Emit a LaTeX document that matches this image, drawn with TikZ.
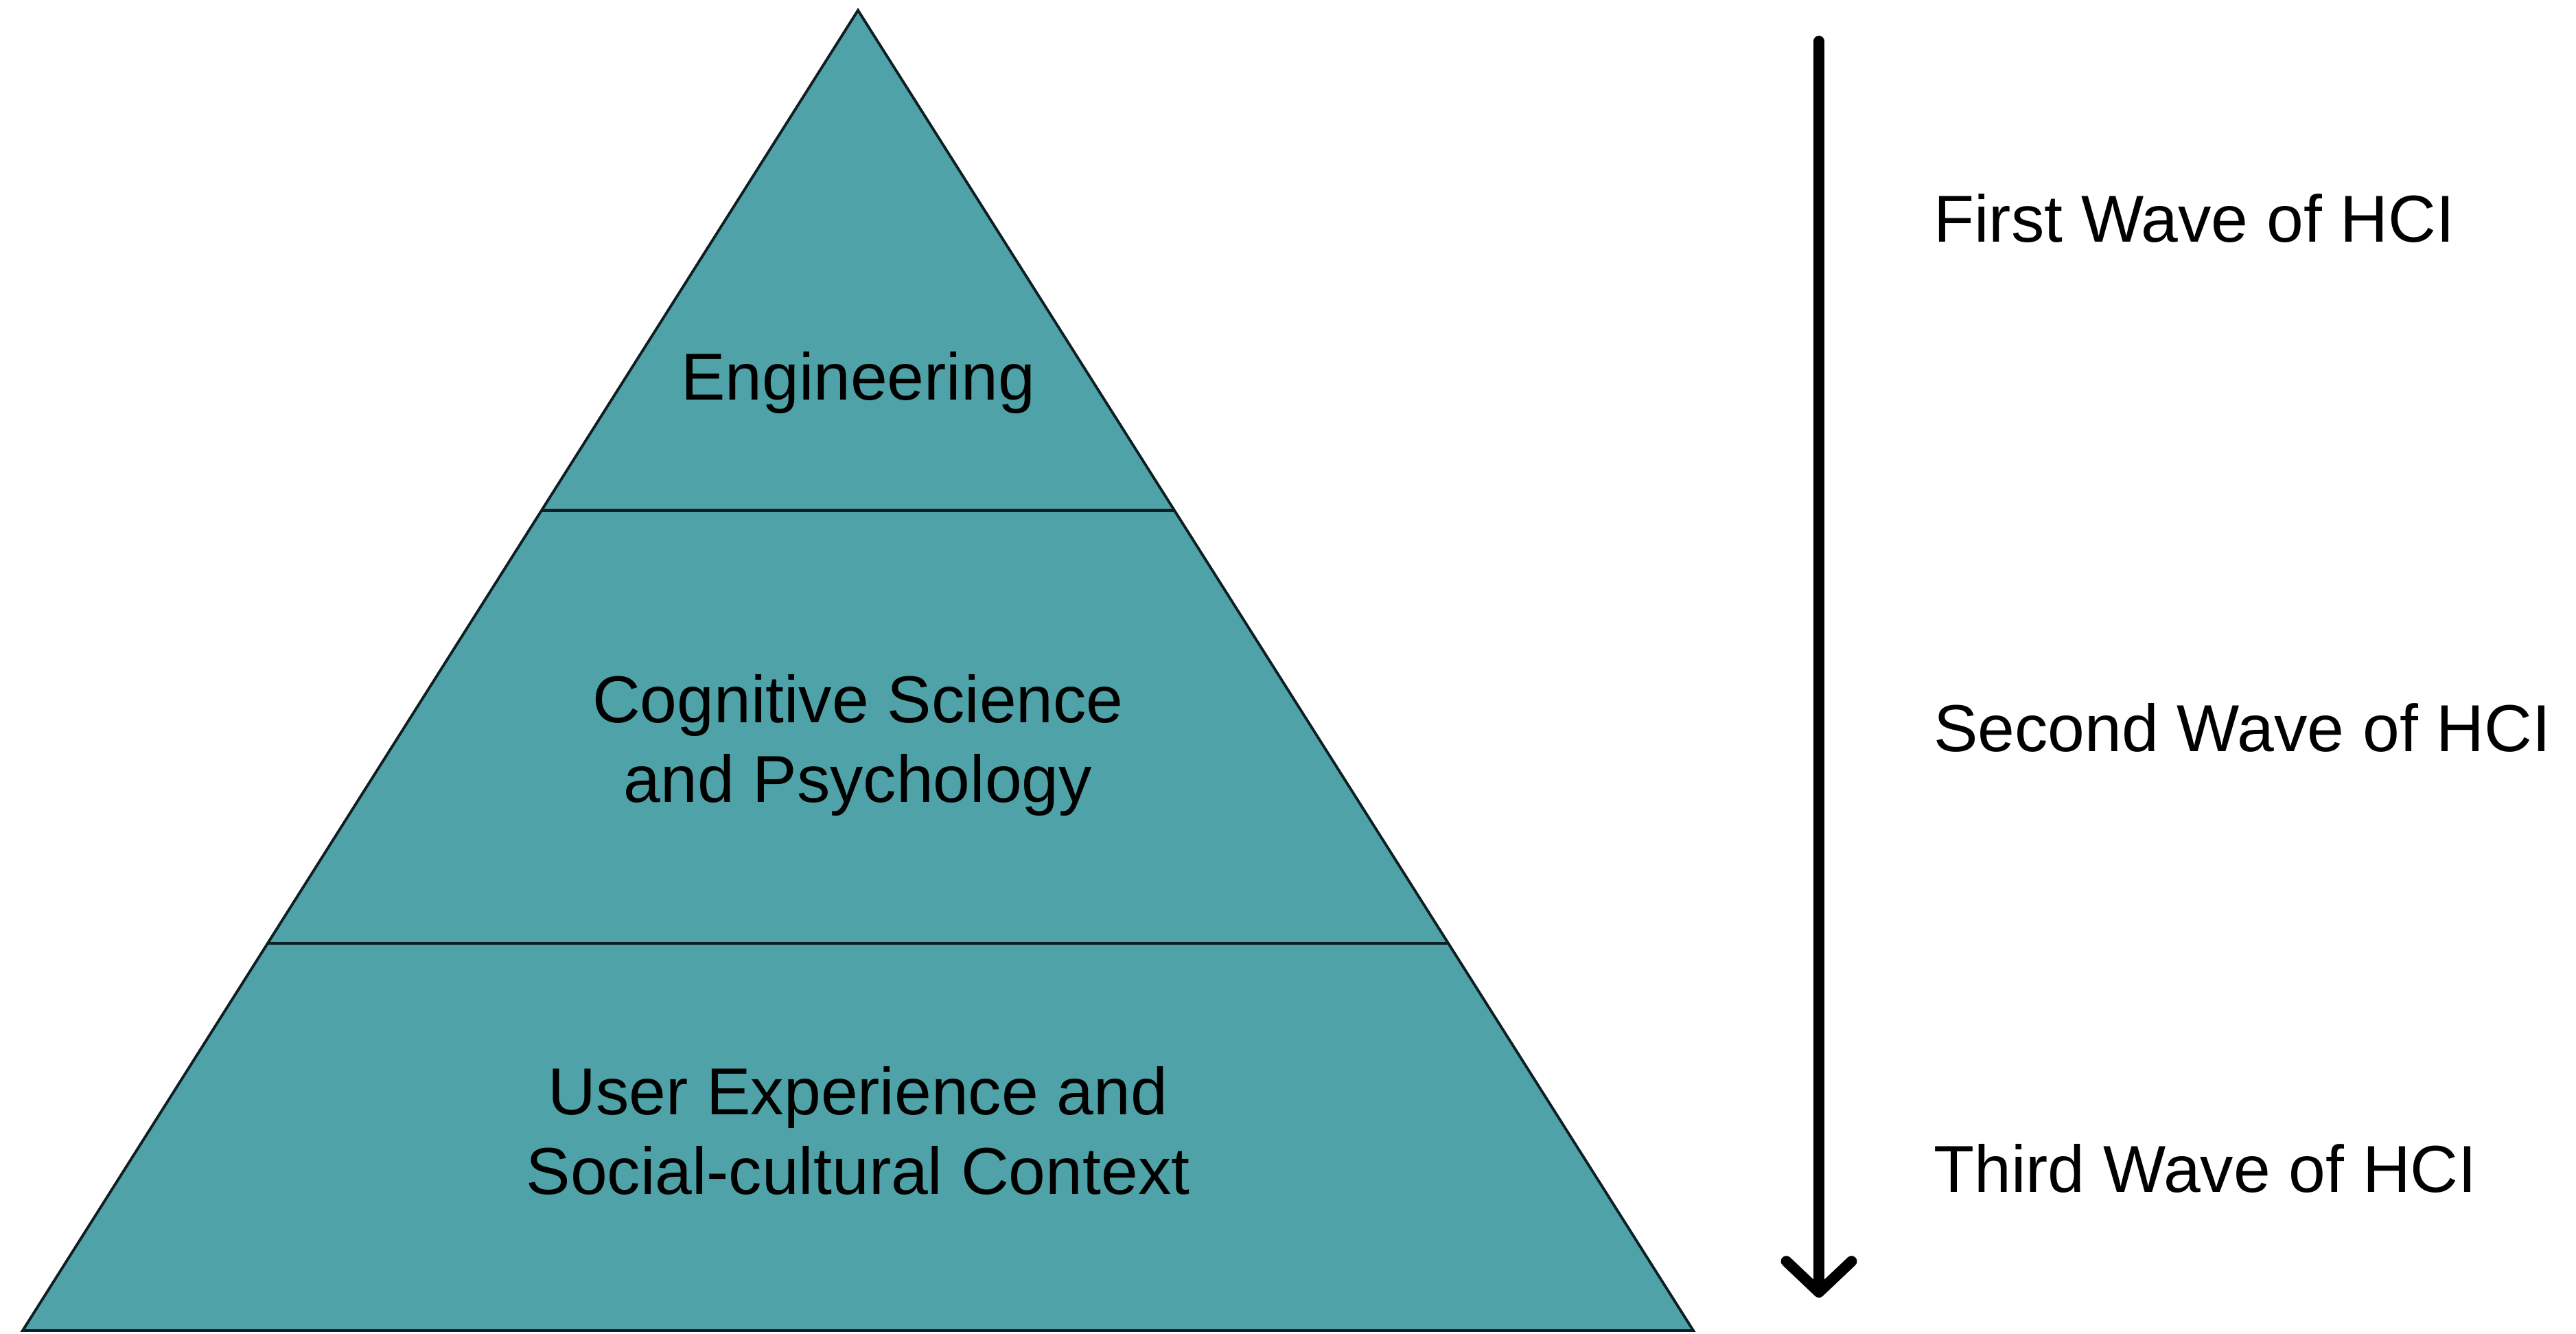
\documentclass[tikz,border=0pt]{standalone}
\usepackage{fontspec}
\setmainfont{Liberation Sans}
\usetikzlibrary{arrows.meta, calc}
\usepackage{xcolor}
\definecolor{tealfill}{HTML}{4FA3A8}
\definecolor{edgestr}{HTML}{0E1E22}
\tikzset{
  layer/.style  ={align=center, font=\fontsize{27.5}{33}\selectfont, text=black},
  wave/.style   ={anchor=west, font=\fontsize{27.5}{33}\selectfont, text=black},
  pyr/.style    ={draw=edgestr, fill=tealfill, line width=1.1pt, line join=miter},
  divider/.style={draw=edgestr, line width=1.4pt},
  timeline/.style={-{Straight Barb[length=4.5mm, width=9.5mm, line cap=round, line join=round]},
                   line width=4.5pt, line cap=round},
}
\begin{document}
\begin{tikzpicture}
    \useasboundingbox (0,0) rectangle (37.53,19.42);
    % pyramid corners
    \coordinate (apex)  at (12.50,19.27);
    \coordinate (left)  at (0.33,0.04);
    \coordinate (right) at (24.67,0.04);
    \draw[pyr] (left) -- (apex) -- (right) -- cycle;
    % split into three layers
    \draw[divider] ($(apex)!0.379!(left)$)  -- ($(apex)!0.379!(right)$);
    \draw[divider] ($(apex)!0.7067!(left)$) -- ($(apex)!0.7067!(right)$);
    \node[layer] (eng) at (12.50,13.84) {Engineering};
    \node[layer] (cog) at (12.50,8.56)  {Cognitive Science\\and Psychology};
    \node[layer] (ux)  at (12.50,2.95)  {User Experience and\\Social-cultural Context};
    % time axis with the three waves
    \coordinate (ttop) at (26.50,18.82);
    \coordinate (tbot) at (26.50,0.52);
    \draw[timeline] (ttop) -- (tbot);
    \node[wave] (w1) at (28.05,16.24) {First Wave of HCI};
    \node[wave] (w2) at (28.05,8.82)  {Second Wave of HCI};
    \node[wave] (w3) at (28.05,2.40)  {Third Wave of HCI};
\end{tikzpicture}
\end{document}
